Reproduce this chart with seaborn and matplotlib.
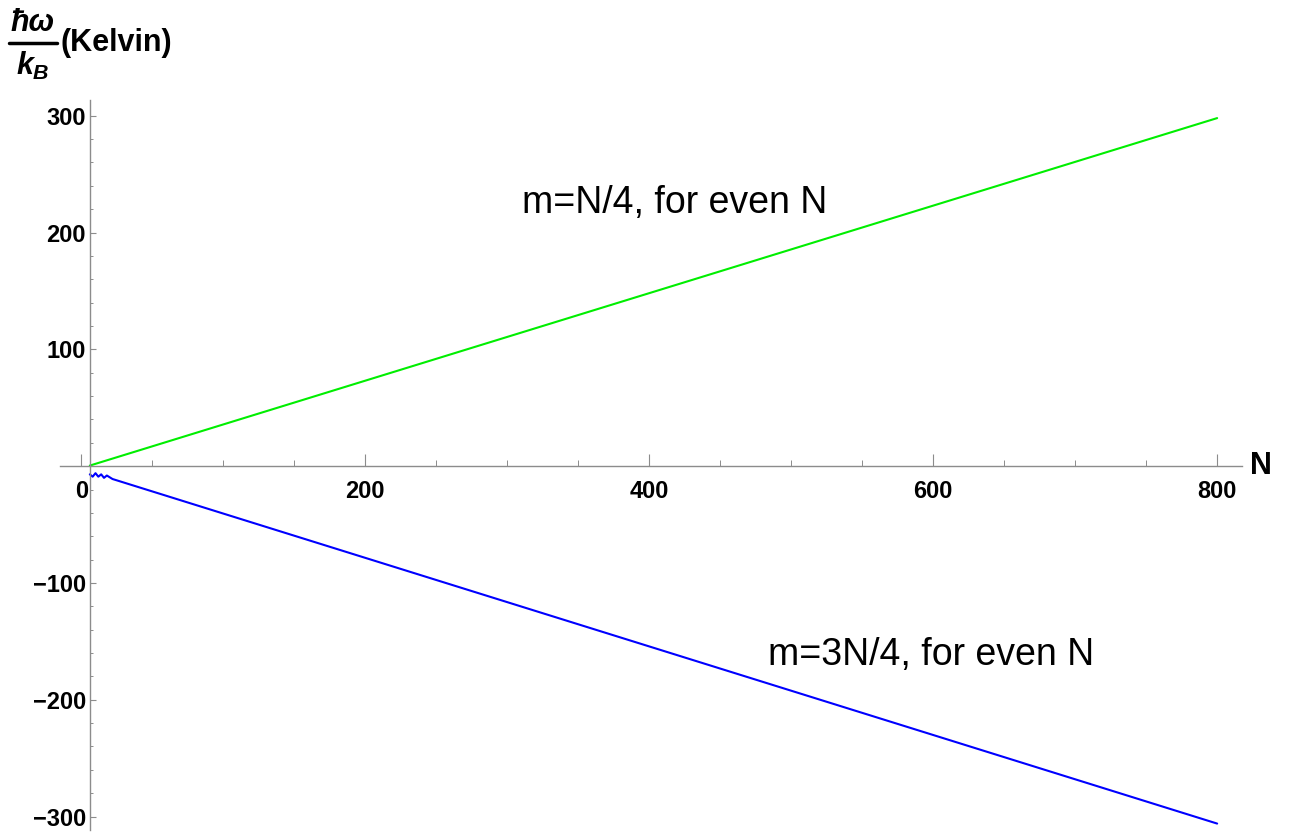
import matplotlib
matplotlib.use("Agg")
import matplotlib.pyplot as plt
import seaborn as sns
import pandas as pd
from matplotlib.ticker import MultipleLocator, FixedLocator
from matplotlib.lines import Line2D

# ---- data ----
green_N = [6, 800]
green_T = [0.5, 298]
blue_N = [6, 8, 10, 12, 14, 16, 18, 22, 800]
blue_T = [-7, -9, -6, -9, -7, -10, -8, -11, -306]
x_ticks = [0, 200, 400, 600, 800]
y_ticks = [-300, -200, -100, 100, 200, 300]
label_green = "m=N/4, for even N"
label_blue = "m=3N/4, for even N"

sns.set_theme(style="white")
plt.rcParams['font.family'] = ['Liberation Sans', 'DejaVu Sans']
plt.rcParams['text.color'] = 'black'
plt.rcParams['xtick.color'] = 'black'
plt.rcParams['ytick.color'] = 'black'
plt.rcParams['mathtext.fontset'] = 'custom'
plt.rcParams['mathtext.it'] = 'Liberation Sans:italic:bold'
plt.rcParams['mathtext.rm'] = 'Liberation Sans:bold'
plt.rcParams['mathtext.bf'] = 'Liberation Sans:bold'

df = pd.concat([
    pd.DataFrame({"N": green_N, "T": green_T, "s": "green"}),
    pd.DataFrame({"N": blue_N, "T": blue_T, "s": "blue"}),
])

W, H = 1294, 838
fig = plt.figure(figsize=(W/100, H/100), dpi=100)
ax = fig.add_axes([60/W, 8/H, 1182/W, 730/H])
sns.lineplot(data=df, x="N", y="T", hue="s", palette={"green": "#00ee00", "blue": "#0000ff"},
             linewidth=1.5, legend=False, ax=ax, sort=False)

ax.set_xlim(-15, 817.5)
ax.set_ylim(-311.5, 313.5)

for s in ["top", "right"]:
    ax.spines[s].set_visible(False)
ax.spines["left"].set_position(("data", 6.3))
ax.spines["bottom"].set_position(("data", 0))
for s in ["left", "bottom"]:
    ax.spines[s].set_color("#8c8c8c")
    ax.spines[s].set_linewidth(1.0)

ax.xaxis.set_major_locator(FixedLocator(x_ticks))
ax.xaxis.set_minor_locator(MultipleLocator(50))
ax.yaxis.set_major_locator(FixedLocator(y_ticks))
ax.yaxis.set_minor_locator(MultipleLocator(20))
ax.set_xticklabels([str(v) for v in x_ticks])
ax.set_yticklabels([f"{v}".replace("-", "\u2212") for v in y_ticks])

ax.tick_params(axis="x", which="major", direction="in", length=9, width=0.8, color="#8c8c8c",
               pad=10, labelsize=17, labelcolor="black")
ax.tick_params(axis="x", which="minor", direction="in", length=4, width=0.7, color="#8c8c8c")
ax.tick_params(axis="y", which="major", direction="in", length=4, width=0.8, color="#8c8c8c",
               pad=3, labelsize=17, labelcolor="black")
ax.tick_params(axis="y", which="minor", direction="in", length=2.5, width=0.7, color="#8c8c8c")
ax.tick_params(bottom=True, left=True, which="both")
for lab in ax.get_xticklabels() + ax.get_yticklabels():
    lab.set_fontweight("bold")

ax.set_xlabel("")
ax.set_ylabel("")

ax.text(418, 217, label_green, fontsize=27, ha="center", va="baseline", color="black",
        bbox=dict(facecolor="white", edgecolor="none", pad=1))
ax.text(484, -170.5, label_blue, fontsize=27, ha="left", va="baseline", color="black",
        bbox=dict(facecolor="white", edgecolor="none", pad=1))

ax.text(823, 0, "N", fontsize=22, fontweight="bold", ha="left", va="center", clip_on=False)

# y-axis label: hbar omega / k_B (Kelvin)
fig.text(33/W, 1 - 31/H, "\u0127\u03c9", fontsize=22, fontweight="bold", fontstyle="italic",
         ha="center", va="baseline")
fig.add_artist(Line2D([9/W, 57/W], [1 - 43/H, 1 - 43/H], color="black", linewidth=2.5,
                      transform=fig.transFigure))
fig.text(33/W, 1 - 75/H, r"$k_B$", fontsize=22, ha="center", va="baseline")
fig.text(60/W, 1 - 43/H, "(Kelvin)", fontsize=22, fontweight="bold", ha="left", va="center")

fig.savefig("out.png", dpi=100, facecolor="white")
